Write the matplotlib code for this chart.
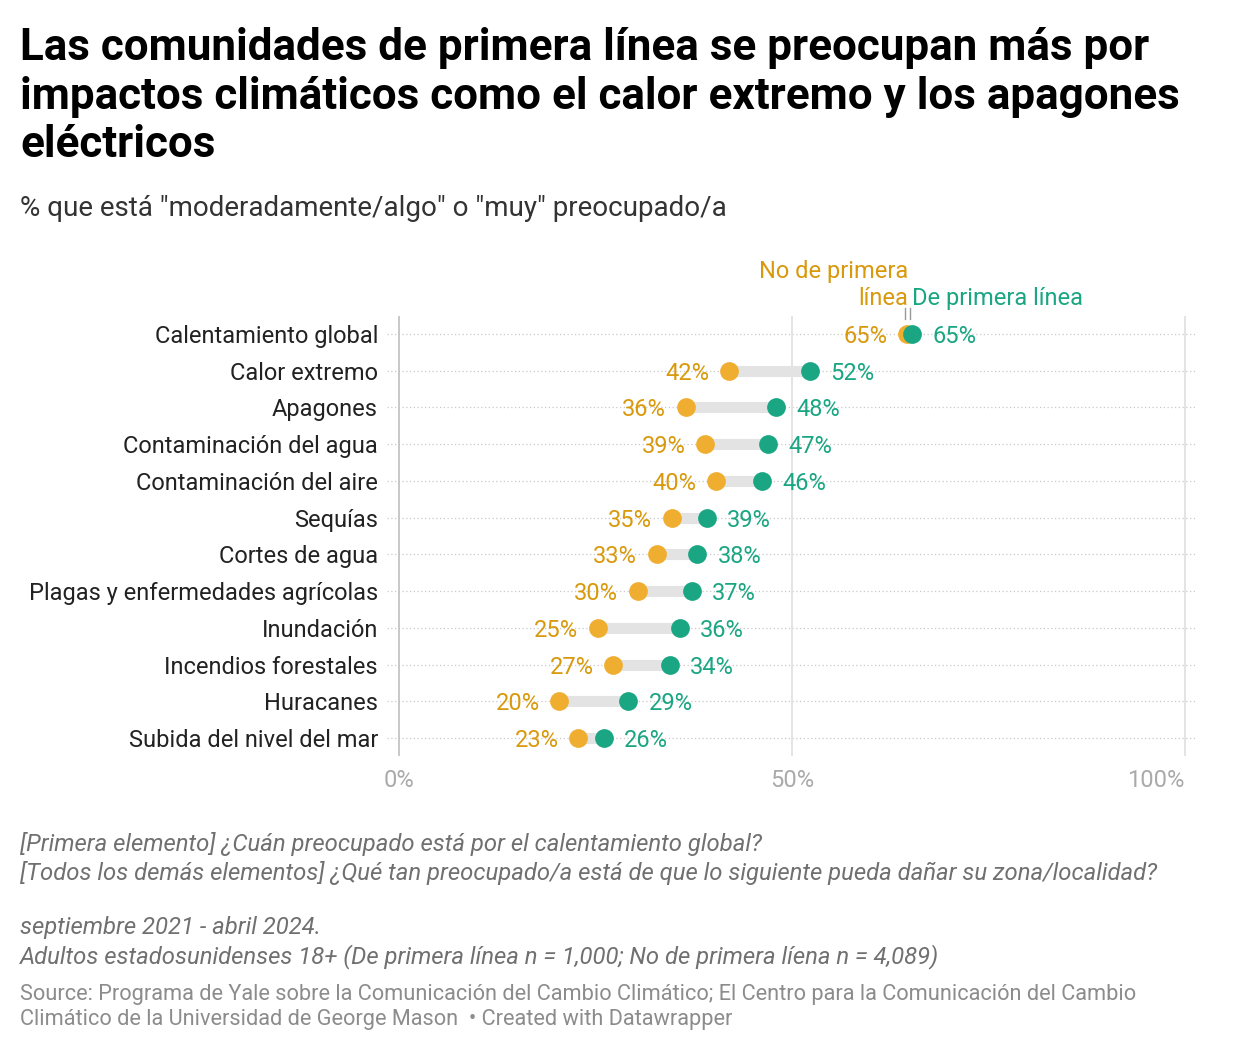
import numpy as np
import matplotlib
matplotlib.use("Agg")
import matplotlib.pyplot as plt

plt.rcParams['font.family'] = ['Roboto', 'DejaVu Sans']

# datos
categorias = ["Calentamiento global", "Calor extremo", "Apagones", "Contaminación del agua",
              "Contaminación del aire", "Sequías", "Cortes de agua", "Plagas y enfermedades agrícolas",
              "Inundación", "Incendios forestales", "Huracanes", "Subida del nivel del mar"]
no_primera = [64.6, 42, 36.5, 39, 40.3, 34.7, 32.8, 30.4, 25.3, 27.3, 20.4, 22.8]
primera = [65.3, 52.3, 48, 47, 46.2, 39.2, 38, 37.3, 35.8, 34.5, 29.2, 26.1]
etiquetas_no = ["65%", "42%", "36%", "39%", "40%", "35%", "33%", "30%", "25%", "27%", "20%", "23%"]
etiquetas_si = ["65%", "52%", "48%", "47%", "46%", "39%", "38%", "37%", "36%", "34%", "29%", "26%"]
ticks_x = [0, 50, 100]
ticks_x_txt = ["0%", "50%", "100%"]

# colores
verde = "#1aa683"
naranja = "#efae30"
naranja_txt = "#d9990c"

W, H = 1240, 1052
fig = plt.figure(figsize=(W / 100, H / 100), dpi=100)

# ejes en pixeles
left, right, top, bottom = 387, 1195, 315.6, 756.4
ax = fig.add_axes([left / W, 1 - bottom / H, (right - left) / W, (bottom - top) / H])
ax.set_xlim(-1.5, 101.3)
ax.set_ylim(len(categorias) - 0.5, -0.5)
for s in ax.spines.values():
    s.set_visible(False)

y = np.arange(len(categorias))

# lineas de fondo
for yi in y:
    ax.axhline(yi, color="#c8c8c8", lw=0.9, ls=(0, (1, 2)), zorder=0)
for xv in ticks_x:
    ax.axvline(xv, color="#c4c4c4" if xv == 0 else "#e2e2e2", lw=1.3, zorder=0)

# barras de conexion y puntos
ax.hlines(y, no_primera, primera, color="#e3e3e3", lw=8, zorder=1)
ax.plot(no_primera, y, "o", color=naranja, ms=13.5, mew=0, zorder=2)
ax.plot(primera, y, "o", color=verde, ms=13.5, mew=0, zorder=3)

for yi, a, b, ta, tb in zip(y, no_primera, primera, etiquetas_no, etiquetas_si):
    ax.annotate(ta, (a, yi), xytext=(-14, 0), textcoords="offset points",
                ha="right", va="center_baseline", fontsize=17, color=naranja_txt)
    ax.annotate(tb, (b, yi), xytext=(14.5, 0), textcoords="offset points",
                ha="left", va="center_baseline", fontsize=17, color=verde)

# leyenda en la parte superior
ax.annotate("línea", (no_primera[0], 0), xytext=(1.5, 27), textcoords="offset points",
            ha="right", va="center_baseline", fontsize=17, color=naranja_txt, annotation_clip=False)
ax.annotate("No de primera", (no_primera[0], 0), xytext=(1.5, 47), textcoords="offset points",
            ha="right", va="center_baseline", fontsize=17, color=naranja_txt, annotation_clip=False)
ax.annotate("De primera línea", (primera[0], 0), xytext=(0, 27), textcoords="offset points",
            ha="left", va="center_baseline", fontsize=17, color=verde, annotation_clip=False)
for xv in (no_primera[0], primera[0]):
    ax.plot([xv - 0.2, xv - 0.2], [-0.72, -0.42], color="#999999", lw=1, clip_on=False)

# ejes
ax.set_yticks(y)
ax.set_yticklabels(categorias, fontsize=17, color="#222222")
ax.tick_params(axis="y", length=0, pad=6.5)
ax.set_xticks(ticks_x)
ax.set_xticklabels(ticks_x_txt, fontsize=17, color="#aaaaaa")
ax.tick_params(axis="x", length=0, pad=9)
ax.get_xticklabels()[-1].set_ha("right")

# titulo y textos
fig.text(20 / W, 1 - 27 / H, "Las comunidades de primera línea se preocupan más por\n"
         "impactos climáticos como el calor extremo y los apagones\neléctricos",
         ha="left", va="top", fontsize=31.7, fontweight="bold", color="#000000", linespacing=1.2)
fig.text(20 / W, 1 - 205 / H, "% que está \"moderadamente/algo\" o \"muy\" preocupado/a",
         ha="left", va="center_baseline", fontsize=20, color="#333333")

notas = ("[Primera elemento] ¿Cuán preocupado está por el calentamiento global?\n"
         "[Todos los demás elementos] ¿Qué tan preocupado/a está de que lo siguiente pueda dañar su zona/localidad?\n"
         "\n"
         "septiembre 2021 - abril 2024.\n"
         "Adultos estadosunidenses 18+ (De primera línea n = 1,000; No de primera líena n = 4,089)")
fig.text(20 / W, 1 - 832.5 / H, notas, ha="left", va="top", fontsize=17.2, style="italic",
         color="#707070", linespacing=1.235)
fig.text(20 / W, 1 - 984 / H,
         "Source: Programa de Yale sobre la Comunicación del Cambio Climático; El Centro para la Comunicación del Cambio\n"
         "Climático de la Universidad de George Mason  • Created with Datawrapper",
         ha="left", va="top", fontsize=15.7, color="#8c8c8c", linespacing=1.27)

fig.savefig("out.png", dpi=100)
